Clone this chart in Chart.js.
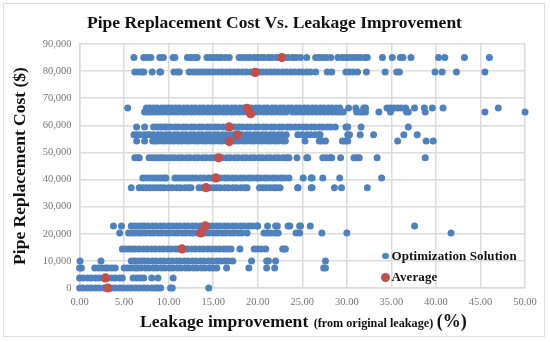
<!DOCTYPE html>
<html>
<head>
<meta charset="utf-8">
<title>Pipe Replacement Cost Vs. Leakage Improvement</title>
<script src="https://cdn.jsdelivr.net/npm/chart.js@4/dist/chart.umd.min.js"></script>
<style>
  html, body { margin: 0; padding: 0; background: #fff; }
  #wrap { position: relative; width: 550px; height: 342px; overflow: hidden; }
  #frame { position: absolute; left: 3px; top: 3px; width: 540px; height: 332px; border: 1px solid #dedede; }
  #chart { position: absolute; left: 0; top: 0; }
  .serif { font-family: "Liberation Serif", serif; font-weight: bold; color: #111; position: absolute; white-space: pre; }
  #xtitle { left: 140px; top: 310px; font-size: 17.6px; line-height: 22px; }
  #xtitle small { font-size: 12.2px; margin-left: 1px; }
  #xtitle b { font-size: 18px; margin-left: -1px; }
  .legend-text { font-size: 13px; line-height: 16px; letter-spacing: 0.1px; }
  .dot { position: absolute; border-radius: 50%; }
</style>
</head>
<body>
<div id="wrap">
  <div id="frame"></div>
  <canvas id="chart" width="550" height="342"></canvas>
  <div id="xtitle" class="serif">Leakage improvement <small>(from original leakage)</small> <b>(%)</b></div>
  <span class="dot" style="left:382px;top:252.5px;width:6.5px;height:6.5px;background:#4f81bd"></span>
  <span class="serif legend-text" style="left:391.5px;top:247.5px">Optimization Solution</span>
  <span class="dot" style="left:380.5px;top:272.5px;width:9px;height:9px;background:#c0504d"></span>
  <span class="serif legend-text" style="left:391.5px;top:269px">Average</span>
</div>
<script>
// Cost level of each row of solutions
const rowCosts = [85000, 79700, 66400, 64900, 59400, 56500, 54200, 48000, 40600, 37000, 22900, 20300, 14400, 10000, 7400, 3700, 0];

// Leakage improvement of the solutions in each row
const row85000 = [6.1, 7.2, 7.6, 8, 9, 9.4, 10.5, 10.7, 12.1, 12.5, 12.9, 13.2, 14.3, 14.7, 15.1, 15.5, 15.9, 16.4, 16.8, 17.9, 18.3, 18.7, 19.1, 19.6, 20, 20.4, 20.7, 21.2, 21.6, 22.1, 22.5, 23, 23.4, 23.9, 24.3, 24.8, 25.5, 26.5, 26.9, 27.3, 27.7, 28.2, 29, 29.5, 29.9, 30.3, 30.7, 31.1, 31.5, 32, 32.3, 34, 35.1, 36, 36.3, 37.2, 40.3, 41, 43.2, 46];
const row80000 = [6.2, 6.6, 7, 7.2, 8.15, 9, 9.1, 10.6, 11, 11.2, 12.3, 12.7, 13.1, 13.5, 13.9, 14.3, 14.7, 15.1, 15.6, 16, 16.5, 16.9, 17.4, 17.8, 18.3, 18.7, 19.2, 19.6, 20.1, 20.5, 21, 21.4, 21.9, 22.3, 22.8, 23.2, 23.7, 24.1, 24.6, 25, 25.5, 25.9, 26.5, 27.8, 28.3, 29.9, 30.3, 30.7, 31.2, 32.2, 34.3, 35.6, 35.9, 39.9, 40.7, 42.3, 45.5];
const row66400 = [5.4, 7.5, 7.9, 8.3, 8.7, 9.2, 9.6, 10, 10.4, 10.8, 11.2, 11.7, 12.1, 12.6, 13, 13.5, 13.9, 14.4, 14.8, 15.3, 15.7, 16.2, 16.6, 17.1, 17.5, 18, 18.4, 18.9, 19.3, 19.8, 20.2, 20.7, 21.1, 21.6, 22, 22.5, 22.9, 23.4, 23.8, 24.3, 24.7, 25.2, 25.6, 26.1, 26.5, 27, 27.4, 27.9, 28.3, 28.8, 29.2, 30.2, 31, 31.9, 32.1, 34.5, 34.9, 35.3, 35.7, 36.1, 36.6, 37.6, 38.7, 39.6, 40.8, 47];
const row64900 = [7.3, 7.7, 8.1, 8.5, 8.9, 9.3, 9.8, 10.2, 10.7, 11.1, 11.6, 12, 12.5, 12.9, 13.4, 13.8, 14.3, 14.7, 15.2, 15.6, 16.1, 16.5, 17, 17.4, 17.9, 18.3, 18.8, 19.2, 19.7, 20.1, 20.6, 21, 21.5, 21.9, 22.4, 22.8, 23.2, 23.9, 24.3, 24.8, 25.2, 25.7, 26.1, 26.6, 27, 27.5, 27.9, 28.4, 28.8, 29.2, 29.6, 31.1, 31.5, 31.8, 32.1, 33.6, 34.9, 36.7, 36.9, 38.8, 45.5, 50];
const row59400 = [6.4, 7.3, 8.3, 8.7, 9.1, 9.5, 9.8, 10.2, 10.7, 11.1, 11.6, 12, 12.5, 12.9, 13.4, 13.8, 14.3, 14.7, 15.2, 15.6, 16.1, 16.5, 17, 17.4, 17.9, 18.3, 18.8, 19.2, 19.7, 20.1, 20.6, 21, 21.5, 21.9, 22.4, 22.8, 23.3, 23.7, 24.2, 24.6, 25.1, 25.5, 26, 26.4, 26.9, 27.3, 27.8, 28.2, 28.7, 29.9, 30.1, 31.6, 36.9];
const row56500 = [6.1, 6.4, 6.7, 7.2, 7.6, 7.9, 8.3, 8.8, 9.2, 9.7, 10.1, 10.6, 11, 11.5, 11.9, 12.4, 12.8, 13.3, 13.7, 14.2, 14.6, 15.1, 15.5, 16, 16.4, 16.9, 17.3, 17.8, 18.2, 18.7, 19.1, 19.6, 20, 20.5, 20.9, 21.4, 21.8, 22.3, 22.7, 23.2, 24.5, 25, 25.5, 25.9, 26.4, 26.8, 27, 30.1, 30.3, 31.5, 33, 36.4, 37.9];
const row54200 = [6.4, 7.3, 8.2, 8.5, 8.8, 9.3, 9.7, 10.2, 10.6, 11.1, 11.5, 12, 12.4, 12.9, 13.3, 13.8, 14.2, 14.7, 15.1, 15.6, 16, 16.5, 16.9, 17.4, 17.8, 18.3, 18.7, 19.2, 19.6, 20.1, 20.5, 21, 21.4, 21.9, 22.3, 22.8, 23.1, 25.3, 26.9, 27.2, 27.6, 29.5, 29.8, 30.1, 35.7, 38.9, 39.7];
const row48000 = [6.2, 6.5, 6.7, 7.8, 8.2, 8.6, 9, 9.3, 9.7, 10.2, 10.6, 11.1, 11.5, 12, 12.4, 12.9, 13.3, 13.8, 14.2, 14.7, 15.1, 15.6, 16, 16.5, 16.9, 17.4, 17.8, 18.3, 18.7, 19.2, 19.6, 20.1, 20.5, 21, 21.4, 21.9, 22.3, 22.8, 23.2, 23.5, 24.4, 25.5, 25.6, 27.3, 27.7, 28.1, 28.3, 29.3, 30.8, 31.1, 31.4, 33.4, 38.8];
const row40600 = [7.1, 7.5, 7.9, 8.3, 8.7, 9.1, 9.5, 9.7, 10.7, 11.1, 11.5, 11.9, 12.3, 12.7, 13.1, 13.6, 14, 14.5, 14.9, 15.4, 15.8, 16.3, 16.7, 17.2, 17.6, 18.1, 18.5, 19, 19.4, 19.9, 20.3, 20.8, 21.2, 21.7, 22.1, 22.6, 23, 23.5, 25.1, 26, 26.1, 27.3, 29.2, 33.9];
const row37000 = [5.8, 6.7, 7.1, 7.5, 7.9, 8.3, 8.7, 9.1, 9.5, 10, 10.4, 10.9, 11.3, 11.8, 12.2, 12.5, 13.4, 13.8, 14.2, 14.6, 15, 15.4, 15.8, 16.3, 16.7, 17.2, 17.6, 18.1, 18.5, 18.8, 20.2, 20.6, 21, 21.4, 21.8, 22.1, 22.5, 24.5, 24.5, 26, 26.1, 28.6, 29.4, 32.3];
const row22900 = [3.8, 4.7, 5.8, 6.2, 6.6, 7, 7.3, 7.7, 8.2, 8.6, 9.1, 9.5, 10, 10.4, 10.9, 11.3, 11.8, 12.2, 12.7, 13.1, 13.6, 14, 14.5, 14.9, 15.4, 15.8, 16.3, 16.7, 17.2, 17.6, 18.1, 18.5, 19, 19.4, 19.9, 20, 21.1, 22, 22.2, 23.4, 23.6, 24.7, 24.8, 25.9, 37.6];
const row20300 = [4.5, 5.5, 5.9, 6.3, 6.7, 7, 7.4, 7.9, 8.3, 8.8, 9.2, 9.7, 10.1, 10.6, 11, 11.5, 11.9, 12.4, 12.8, 13.3, 13.7, 14.2, 14.6, 15.1, 15.5, 16, 16.4, 16.9, 17.3, 17.8, 18.2, 18.8, 20.7, 21.1, 21.5, 22, 22.3, 24.3, 24.7, 27.2, 30, 41.7];
const row14400 = [4.8, 5.2, 5.6, 6, 6.3, 6.7, 7.2, 7.6, 8.1, 8.5, 9, 9.4, 9.9, 10.3, 10.8, 11.2, 11.7, 12.1, 12.6, 13, 13.5, 13.9, 14.4, 14.8, 15.3, 15.7, 16.2, 16.6, 17, 18, 19.6, 20, 20.4, 20.9, 22.8, 23, 23.1];
const row10000 = [0.05, 2.4, 5.8, 6.2, 6.6, 7, 7.3, 7.7, 8.2, 8.6, 9.1, 9.5, 10, 10.4, 10.9, 11.3, 11.8, 12.2, 12.7, 13.1, 13.6, 14, 14.5, 14.9, 15.4, 15.8, 16.3, 16.7, 17.2, 19.3, 21, 21.2, 22, 27.6];
const row7400 = [0, 0.2, 1.7, 2.1, 2.5, 2.9, 3.2, 3.6, 4, 5, 5.4, 5.8, 6.2, 6.5, 6.9, 7.4, 7.8, 8.3, 8.7, 9.2, 9.6, 10.1, 10.5, 11, 11.4, 11.9, 12.3, 12.8, 13.2, 13.7, 14.1, 14.6, 15, 15.4, 16.5, 19, 21, 21.9, 27.4, 27.6];
const row3700 = [0, 0.4, 0.9, 1.3, 1.8, 2.2, 2.7, 3.1, 3.6, 4, 4.5, 4.8, 6, 6.4, 6.8, 7.2, 8.1, 8.8, 10.5];
const row0 = [0, 0.4, 0.9, 1.3, 1.8, 2.2, 2.7, 3.1, 3.6, 4, 4.5, 4.9, 5.4, 5.8, 6.3, 6.7, 7.2, 7.6, 8.1, 8.5, 8.8, 9.1, 10.2, 10.4, 14.5];
const rowLeakage = [row85000, row80000, row66400, row64900, row59400, row56500, row54200, row48000, row40600, row37000, row22900, row20300, row14400, row10000, row7400, row3700, row0];

// Red average markers
const avgLeakage = [22.7, 19.7, 18.8, 19.2, 16.8, 17.7, 16.8, 15.6, 15.3, 14.2, 14.1, 13.6, 11.5, 2.9, 3.15];
const avgCost = [85000, 79500, 66300, 64300, 59400, 56500, 54000, 48000, 40600, 37000, 22900, 20300, 14400, 3700, 0];

function buildSolutionPoints() {
  const points = [];
  rowCosts.forEach((cost, i) => {
    rowLeakage[i].forEach(x => points.push({ x: x, y: cost }));
  });
  return points;
}

const serif = '"Liberation Serif", serif';
const gridColor = '#dcdcdc';

// Centre the title on the whole picture, not on the padded chart box
const centerTitle = {
  id: 'centerTitle',
  beforeDraw(chart) {
    chart.titleBlock.left = 0;
    chart.titleBlock.right = 549;
  }
};

new Chart(document.getElementById('chart'), {
  type: 'scatter',
  plugins: [centerTitle],
  data: {
    datasets: [
      {
        label: 'Average',
        data: avgLeakage.map((x, i) => ({ x: x, y: avgCost[i] })),
        backgroundColor: '#c0504d',
        pointRadius: 4.6,
        pointBorderWidth: 0,
        clip: false,
        order: 0
      },
      {
        label: 'Optimization Solution',
        data: buildSolutionPoints(),
        backgroundColor: '#4f81bd',
        pointRadius: 3.5,
        pointBorderWidth: 0,
        clip: false,
        order: 1
      }
    ]
  },
  options: {
    responsive: false,
    animation: false,
    layout: { padding: { left: 0, right: 25, top: 0, bottom: 0 } },
    plugins: {
      legend: { display: false },
      tooltip: { enabled: false },
      title: {
        display: true,
        text: 'Pipe Replacement Cost Vs. Leakage Improvement',
        color: '#111',
        font: { family: serif, size: 17.5, weight: 'bold', lineHeight: 1 },
        padding: { top: 15, bottom: 11.5 }
      }
    },
    scales: {
      x: {
        type: 'linear',
        min: 0,
        max: 50,
        afterFit: scale => { scale.height = 54; },
        ticks: {
          stepSize: 5,
          color: '#777',
          padding: 8,
          font: { family: serif, size: 10.5 },
          callback: v => v.toFixed(2)
        },
        grid: { color: gridColor, lineWidth: 1.5, drawTicks: false },
        border: { color: gridColor, width: 1.5 }
      },
      y: {
        min: 0,
        max: 90000,
        afterFit: scale => { scale.width = 79.6; },
        title: {
          display: true,
          text: 'Pipe Replacement Cost ($)',
          color: '#111',
          font: { family: serif, size: 17.5, weight: 'bold' },
          padding: { top: 10, bottom: 0 }
        },
        ticks: {
          stepSize: 10000,
          color: '#777',
          padding: 8,
          font: { family: serif, size: 10.5 },
          callback: v => v.toLocaleString('en-US')
        },
        grid: { color: gridColor, lineWidth: 1.5, drawTicks: false },
        border: { color: gridColor, width: 1.5 }
      }
    }
  }
});
</script>
</body>
</html>
